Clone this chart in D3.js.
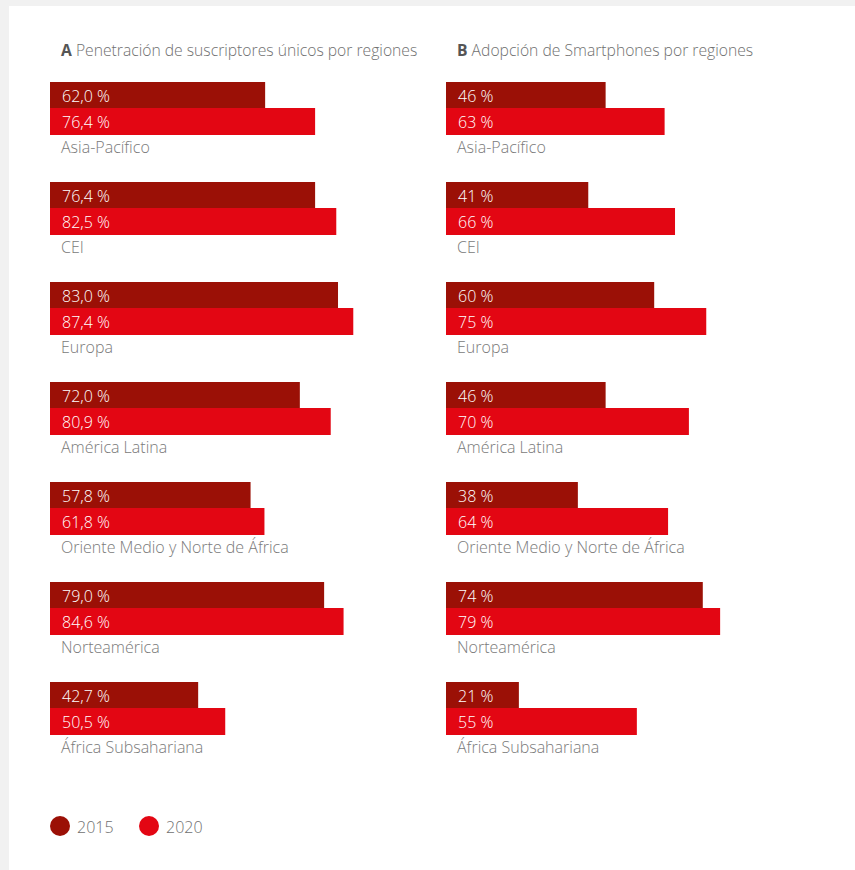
<!DOCTYPE html>
<html>
<head>
<meta charset="utf-8">
<script src="https://cdn.jsdelivr.net/npm/d3@7"></script>
<style>
  html, body { margin: 0; padding: 0; background: #f1f1f1; }
  svg { display: block; }
  text { font-family: "Open Sans", "DejaVu Sans", sans-serif; font-weight: 300; }
</style>
</head>
<body>
<svg id="chart" width="855" height="870"></svg>
<script>
// Regions shown in both panels
const regions = [
  "Asia-Pacífico", "CEI", "Europa", "América Latina",
  "Oriente Medio y Norte de África", "Norteamérica", "África Subsahariana"
];

// Panel A: unique subscriber penetration (%)
const penetration2015 = [62.0, 76.4, 83.0, 72.0, 57.8, 79.0, 42.7];
const penetration2020 = [76.4, 82.5, 87.4, 80.9, 61.8, 84.6, 50.5];

// Panel B: smartphone adoption (%)
const smartphone2015 = [46, 41, 60, 46, 38, 74, 21];
const smartphone2020 = [63, 66, 75, 70, 64, 79, 55];

const years = ["2015", "2020"];
const colors = ["#9b1006", "#e30613"];

const svg = d3.select("#chart");

// white sheet on the light grey page
svg.append("rect").attr("x", 9).attr("y", 6).attr("width", 846).attr("height", 864).attr("fill", "#ffffff");

const panels = [
  { letter: "A", title: "Penetración de suscriptores únicos por regiones", x0: 50,
    series: [penetration2015, penetration2020],
    fmt: v => d3.format(".1f")(v).replace(".", ",") + " %" },
  { letter: "B", title: "Adopción de Smartphones por regiones", x0: 446,
    series: [smartphone2015, smartphone2020],
    fmt: v => d3.format("d")(v) + " %" }
];

// vertical placement of the region groups, and of the two years inside a group
const groupY = d3.scaleBand().domain(regions).range([82, 782]);
const yearY = d3.scaleBand().domain(years).range([0, 53]);

panels.forEach(p => {
  const x = d3.scaleLinear().domain([0, 100]).range([p.x0, p.x0 + 347]);
  const g = svg.append("g");

  const title = g.append("text").attr("x", p.x0 + 11).attr("y", 56)
    .attr("font-size", 15.7).attr("fill", "#707070");
  title.append("tspan").text(p.letter).attr("font-weight", 700).attr("fill", "#555555");
  title.append("tspan").text(" " + p.title);

  regions.forEach((r, i) => {
    const y0 = groupY(r);
    p.series.forEach((s, k) => {
      const yTop = Math.floor(y0 + yearY(years[k]));
      const yBot = Math.floor(y0 + yearY(years[k]) + yearY.bandwidth());
      g.append("rect")
        .attr("x", x(0)).attr("y", yTop)
        .attr("width", x(s[i]) - x(0)).attr("height", yBot - yTop)
        .attr("fill", colors[k]);
      g.append("text")
        .attr("x", x(0) + 12).attr("y", yTop + 20)
        .attr("font-size", 16).attr("fill", "#ffffff")
        .text(p.fmt(s[i]));
    });
    g.append("text")
      .attr("x", x(0) + 11).attr("y", y0 + 71)
      .attr("font-size", 16).attr("fill", "#7a7a7a")
      .text(r);
  });
});

// legend
const legendX = [60, 149];
years.forEach((yr, k) => {
  svg.append("circle").attr("cx", legendX[k]).attr("cy", 826).attr("r", 10).attr("fill", colors[k]);
  svg.append("text").attr("x", legendX[k] + 17).attr("y", 833)
    .attr("font-size", 16).attr("fill", "#707070").text(yr);
});
</script>
</body>
</html>
